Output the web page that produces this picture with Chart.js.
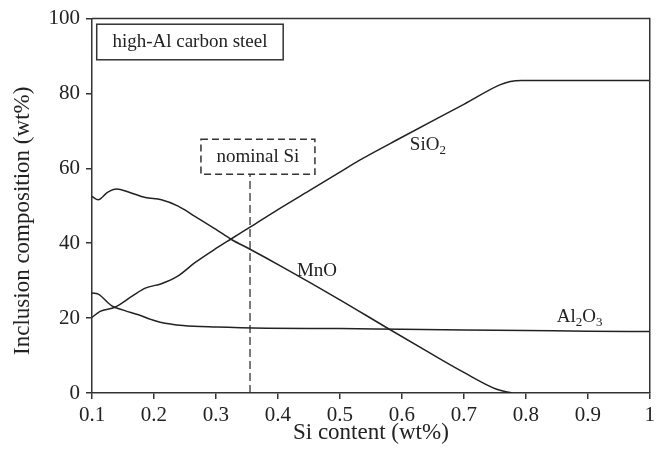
<!DOCTYPE html>
<html>
<head>
<meta charset="utf-8">
<script src="https://cdn.jsdelivr.net/npm/chart.js@4.4.1/dist/chart.umd.min.js"></script>
<style>
  body { margin: 0; background: #fff; }
  #wrap { width: 659px; height: 459px; }
</style>
</head>
<body>
<div id="wrap"><canvas id="grafico"></canvas></div>
<script>
// valores
const siO2X = [0.1, 0.113, 0.137, 0.166, 0.186, 0.212, 0.239, 0.266, 0.3, 0.325, 0.355, 0.4, 0.45, 0.5, 0.532, 0.6, 0.661, 0.7, 0.758, 0.775, 0.793, 0.9, 1.0];
const siO2Y = [20.2, 21.8, 22.9, 26.0, 28.0, 29.2, 31.3, 34.8, 38.6, 41.2, 44.3, 49.0, 54.0, 59.0, 62.2, 68.3, 73.7, 77.1, 82.3, 83.2, 83.5, 83.5, 83.5];

const mnOX = [0.1, 0.11, 0.125, 0.14, 0.16, 0.186, 0.212, 0.239, 0.266, 0.3, 0.325, 0.355, 0.409, 0.5, 0.575, 0.645, 0.7, 0.753, 0.778];
const mnOY = [52.5, 51.6, 53.6, 54.5, 53.6, 52.2, 51.6, 49.9, 47.2, 43.7, 41.0, 38.4, 33.5, 24.9, 17.5, 10.7, 5.5, 1.0, 0];

const al2O3X = [0.1, 0.11, 0.132, 0.153, 0.175, 0.196, 0.21, 0.247, 0.301, 0.382, 0.5, 0.6, 0.8, 0.9, 1.0];
const al2O3Y = [26.7, 26.4, 23.3, 22.0, 20.9, 19.6, 18.9, 18.0, 17.6, 17.3, 17.2, 17.0, 16.7, 16.5, 16.4];

const nominalSi = 0.355;
const seriesNames = ['SiO2', 'MnO', 'Al2O3'];
const xTicks = [0.1, 0.2, 0.3, 0.4, 0.5, 0.6, 0.7, 0.8, 0.9, 1];
const yTicks = [0, 20, 40, 60, 80, 100];

// posiciones de textos y cajas (en unidades de datos)
const labelPos = [[0.642, 66.3], [0.463, 32.6], [0.887, 20.4]];
const steelBox = { x1: 0.1076, x2: 0.4085, y1: 89.0, y2: 98.5, text: 'high-Al carbon steel' };
const nominalBox = { x1: 0.2758, x2: 0.4597, y1: 58.4, y2: 67.8, text: 'nominal Si' };

const serif = "'Liberation Serif', 'Times New Roman', serif";
const ink = '#222';

function pares(xs, ys) {
    return xs.map((x, i) => ({ x: x, y: ys[i] }));
}

function textoConSubindices(ctx, str, cx, cy) {
    const partes = str.match(/[A-Za-z]+|[0-9]+/g);
    const big = '19px ' + serif;
    const small = '13px ' + serif;
    let total = 0;
    partes.forEach(p => {
        ctx.font = /[0-9]/.test(p) ? small : big;
        total += ctx.measureText(p).width;
    });
    let x = cx - total / 2;
    ctx.textBaseline = 'middle';
    ctx.textAlign = 'left';
    partes.forEach(p => {
        const sub = /[0-9]/.test(p);
        ctx.font = sub ? small : big;
        ctx.fillText(p, x, sub ? cy + 6 : cy);
        x += ctx.measureText(p).width;
    });
}

const extras = {
    id: 'extras',
    afterDraw(chart) {
        const ctx = chart.ctx;
        const xs = chart.scales.x;
        const ys = chart.scales.y;
        const a = chart.chartArea;
        ctx.save();
        // marco superior y derecho
        ctx.strokeStyle = '#333';
        ctx.lineWidth = 1.5;
        ctx.beginPath();
        ctx.moveTo(a.left, a.top);
        ctx.lineTo(a.right, a.top);
        ctx.lineTo(a.right, a.bottom);
        ctx.stroke();

        // cajas de texto
        [steelBox, nominalBox].forEach((b, i) => {
            const l = xs.getPixelForValue(b.x1), r = xs.getPixelForValue(b.x2);
            const t = ys.getPixelForValue(b.y2), bt = ys.getPixelForValue(b.y1);
            ctx.setLineDash(i === 1 ? [7, 4] : []);
            ctx.lineWidth = 1.5;
            ctx.strokeStyle = '#333';
            ctx.strokeRect(l, t, r - l, bt - t);
            ctx.setLineDash([]);
            ctx.fillStyle = ink;
            ctx.font = '19px ' + serif;
            ctx.textAlign = 'center';
            ctx.textBaseline = 'middle';
            ctx.fillText(b.text, (l + r) / 2, (t + bt) / 2);
        });

        // nombres de las series
        ctx.fillStyle = ink;
        seriesNames.forEach((n, i) => {
            textoConSubindices(ctx, n, xs.getPixelForValue(labelPos[i][0]), ys.getPixelForValue(labelPos[i][1]));
        });

        // titulo eje y
        ctx.translate(23, (a.top + a.bottom) / 2 + 15);
        ctx.rotate(-Math.PI / 2);
        ctx.font = '23px ' + serif;
        ctx.textAlign = 'center';
        ctx.textBaseline = 'middle';
        ctx.fillText('Inclusion composition (wt%)', 0, 0);
        ctx.restore();
    }
};

const linea = { borderColor: ink, borderWidth: 1.5, pointRadius: 0, fill: false, cubicInterpolationMode: 'monotone' };

const config = {
    type: 'line',
    data: {
        datasets: [
            Object.assign({ label: seriesNames[0], data: pares(siO2X, siO2Y) }, linea),
            Object.assign({ label: seriesNames[1], data: pares(mnOX, mnOY) }, linea),
            Object.assign({ label: seriesNames[2], data: pares(al2O3X, al2O3Y) }, linea),
            {
                label: 'nominal Si',
                data: [{ x: nominalSi, y: 0 }, { x: nominalSi, y: nominalBox.y1 }],
                borderColor: '#333',
                borderWidth: 1.3,
                borderDash: [8, 4],
                pointRadius: 0
            }
        ]
    },
    options: {
        responsive: true,
        maintainAspectRatio: false,
        animation: false,
        layout: { padding: { top: 16, right: 9, left: 0, bottom: 0 } },
        plugins: { legend: { display: false }, tooltip: { enabled: false } },
        scales: {
            x: {
                type: 'linear',
                min: 0.1,
                max: 1,
                afterFit: s => { s.height = 66; },
                afterBuildTicks: s => { s.ticks = xTicks.map(v => ({ value: v })); },
                ticks: {
                    color: ink,
                    padding: 4,
                    maxRotation: 0,
                    font: { family: serif, size: 21 },
                    callback: v => String(Number(v.toFixed(1)))
                },
                grid: { drawOnChartArea: false, drawTicks: true, tickLength: 6, color: '#333', lineWidth: 1.5 },
                border: { display: true, color: '#333', width: 1.5 },
                title: {
                    display: true,
                    text: 'Si content (wt%)',
                    color: ink,
                    font: { family: serif, size: 23 },
                    padding: { top: 0, bottom: 12 }
                }
            },
            y: {
                min: 0,
                max: 100,
                afterFit: s => { s.width = 92; },
                afterBuildTicks: s => { s.ticks = yTicks.map(v => ({ value: v })); },
                ticks: {
                    color: ink,
                    padding: 6,
                    font: { family: serif, size: 21 }
                },
                grid: { drawOnChartArea: false, drawTicks: true, tickLength: 6, color: '#333', lineWidth: 1.5 },
                border: { display: true, color: '#333', width: 1.5 }
            }
        }
    },
    plugins: [extras]
};

const ctx = document.getElementById('grafico').getContext('2d');
new Chart(ctx, config);
</script>
</body>
</html>
